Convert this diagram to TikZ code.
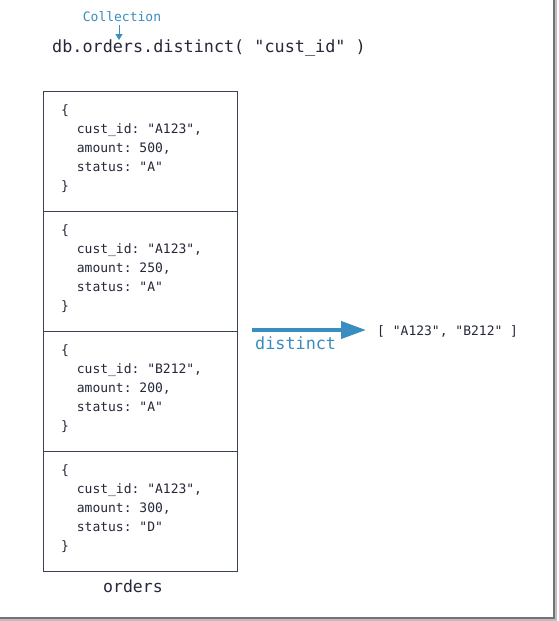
\documentclass[tikz,border=0pt]{standalone}
\usepackage{fontspec}
\setmonofont{DejaVu Sans Mono}
\usetikzlibrary{arrows.meta}
\definecolor{mblue}{HTML}{3A8DBF}
\definecolor{mtext}{HTML}{25283A}
\definecolor{mframe}{HTML}{3C4257}
\tikzset{
  doc/.style={anchor=west, align=left, font=\ttfamily\fontsize{13}{19}\selectfont, text=mtext, inner sep=0pt},
  cell/.style={draw=mframe, line width=1pt, minimum width=194pt, minimum height=120pt, anchor=north west, inner sep=0pt},
}
\begin{document}
\begin{tikzpicture}[x=1pt,y=-1pt]
\useasboundingbox (0,0) rectangle (558,621);
\fill[white] (0,0) rectangle (558,621);
% shadow frame
\draw[black!55, line width=1.5pt] (554,0) -- (554,618) -- (0,618);
\draw[black!25, line width=1.5pt] (556,0) -- (556,620) -- (0,620);
% header
\node[font=\ttfamily\fontsize{13}{15}\selectfont, text=mblue, inner sep=0pt] (coll) at (122,17) {Collection};
\node[anchor=west, font=\ttfamily\fontsize{16.8}{18}\selectfont, text=mtext, inner sep=0pt] (title) at (52,48) {db.orders.distinct( "cust\_id" )};
\coordinate (ctop) at (119,25);
\coordinate (cbot) at (119,40);
\draw[mblue, line width=1pt, -{Triangle[length=6pt,width=7pt]}] (ctop) -- (cbot);
% boxes
\node[cell] (b1) at (43,91) {};
\node[cell] (b2) at (43,211) {};
\node[cell] (b3) at (43,331) {};
\node[cell] (b4) at (43,451) {};
\node[doc] (d1) at (61,149) {\{\\\ \ cust\_id: "A123",\\\ \ amount: 500,\\\ \ status: "A"\\\}};
\node[doc] (d2) at (61,269) {\{\\\ \ cust\_id: "A123",\\\ \ amount: 250,\\\ \ status: "A"\\\}};
\node[doc] (d3) at (61,389) {\{\\\ \ cust\_id: "B212",\\\ \ amount: 200,\\\ \ status: "A"\\\}};
\node[doc] (d4) at (61,509) {\{\\\ \ cust\_id: "A123",\\\ \ amount: 300,\\\ \ status: "D"\\\}};
\node[font=\ttfamily\fontsize{16.5}{18}\selectfont, text=mtext, inner sep=0pt] (orders) at (133,586) {orders};
% distinct arrow
\coordinate (astart) at (252,330);
\node[anchor=west, font=\ttfamily\fontsize{13}{15}\selectfont, text=mtext, inner sep=0pt] (res) at (377,331) {[ "A123", "B212" ]};
\draw[mblue, line width=4pt, -{Triangle[length=25pt,width=17pt]}] (astart) -- (366,330);
\node[anchor=west, font=\ttfamily\fontsize{16.8}{18}\selectfont, text=mblue, inner sep=0pt] (dist) at (255,343) {distinct};
\end{tikzpicture}
\end{document}
